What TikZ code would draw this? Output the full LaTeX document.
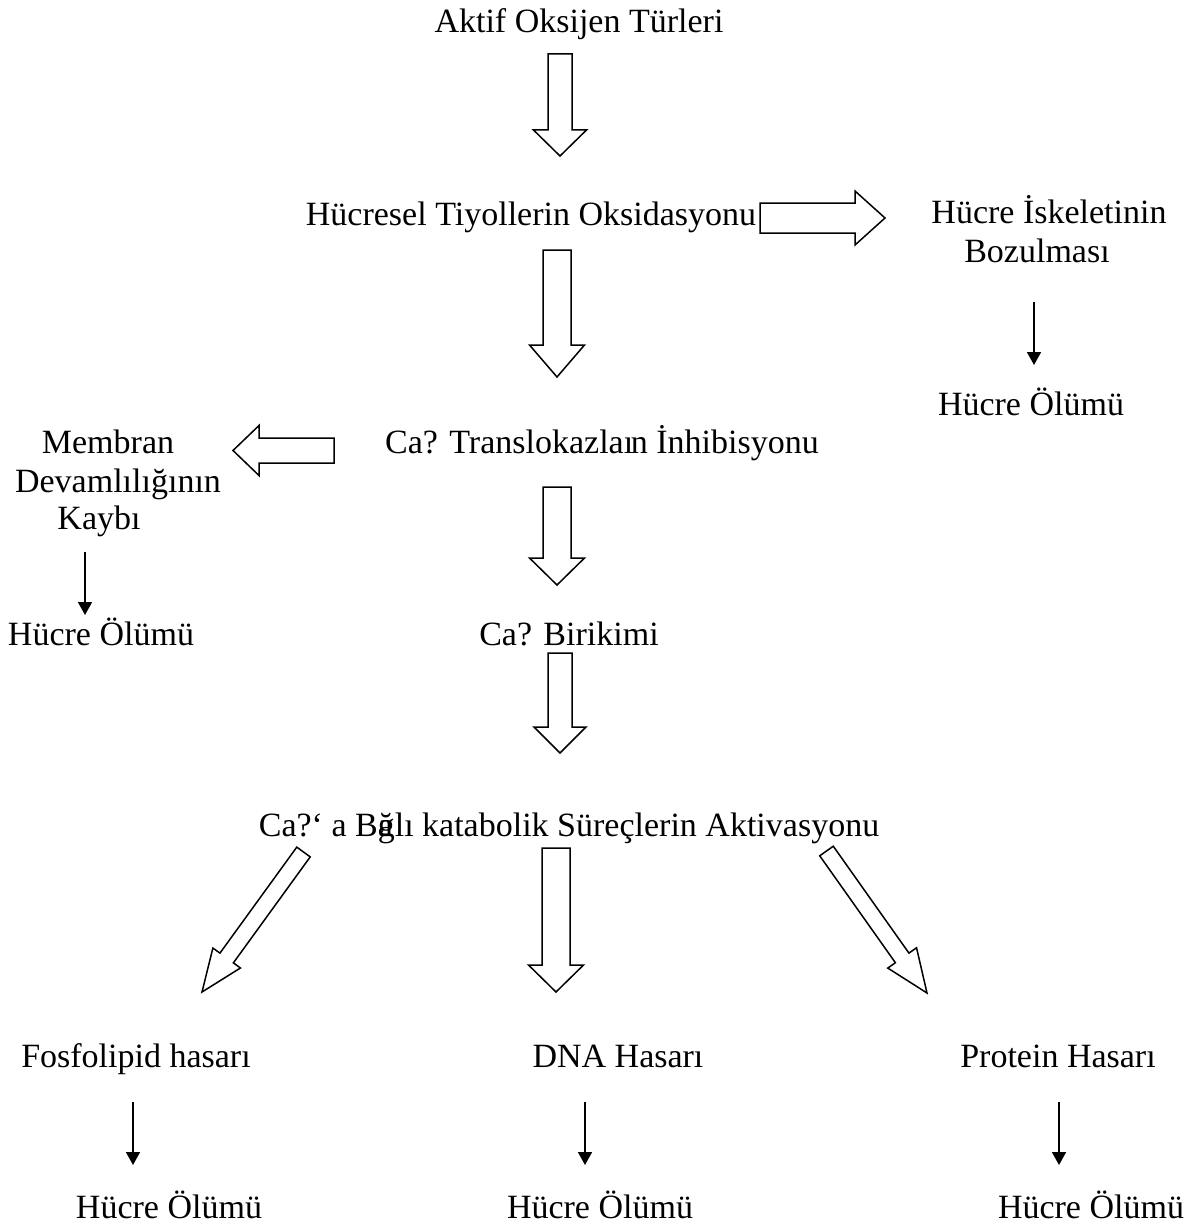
\documentclass[tikz,border=0pt]{standalone}
\usepackage{fontspec}
\setmainfont{Liberation Serif}
\usetikzlibrary{calc,arrows.meta}
\tikzset{
  lbl/.style={inner sep=0pt, anchor=base, font=\fontsize{34}{40}\selectfont},
  hollow/.style={draw=black, fill=white, line width=1.5pt, line join=miter},
  thinarr/.style={line width=1.6pt, -{Triangle[width=14pt,length=13pt]}}
}
% hollow block arrow: #1 start, #2 tip, #3 shaft half width, #4 head half width, #5 head length
\newcommand\hollowarr[5]{%
  \coordinate (hb) at ($(#2)!#5!(#1)$);
  \draw[hollow] ($(#1)!#3!90:(#2)$) -- ($(hb)!#3!90:(#2)$) -- ($(hb)!#4!90:(#2)$) -- (#2)
     -- ($(hb)!#4!-90:(#2)$) -- ($(hb)!#3!-90:(#2)$) -- ($(#1)!#3!-90:(#2)$) -- cycle;
}
\begin{document}
\begin{tikzpicture}[x=1pt,y=-1pt]
\useasboundingbox (0,0) rectangle (1199,1228);
% texts
\node[lbl] (aot) at (579,33) {Aktif Oksijen Türleri};
\node[lbl] (hto) at (531,225) {Hücresel Tiyollerin Oksidasyonu};
\node[lbl] (hib1) at (1049,223) {Hücre İskeletinin};
\node[lbl] (hib2) at (1037,262) {Bozulması};
\node[lbl] (ho1) at (1031,415) {Hücre Ölümü};
\node[lbl] (cti) at (602,453) {Ca? Translokazla\rlap{ı}\kern0.21em n İnhibisyonu};
\node[lbl] (mdk1) at (108,453) {Membran};
\node[lbl] (mdk2) at (118,492) {Devamlılığının};
\node[lbl] (mdk3) at (99,529) {Kaybı};
\node[lbl] (ho2) at (101,645) {Hücre Ölümü};
\node[lbl] (cb) at (569,645) {Ca? Birikimi};
\node[lbl] (cbk) at (569,836) {Ca?‘ a B\rlap{a}ğlı katabolik Süreçlerin Aktivasyonu};
\node[lbl] (fh) at (136,1067) {Fosfolipid hasarı};
\node[lbl] (dh) at (618,1067) {DNA Hasarı};
\node[lbl] (ph) at (1058,1067) {Protein Hasarı};
\node[lbl] (ho3) at (169,1218) {Hücre Ölümü};
\node[lbl] (ho4) at (600,1218) {Hücre Ölümü};
\node[lbl] (ho5) at (1091,1218) {Hücre Ölümü};
% arrow end points
\coordinate (a1s) at (560,54);   \coordinate (a1e) at (560,156);
\coordinate (a2s) at (557,250);  \coordinate (a2e) at (557,377);
\coordinate (a3s) at (557,487);  \coordinate (a3e) at (557,585);
\coordinate (a4s) at (560,653);  \coordinate (a4e) at (560,753);
\coordinate (a5s) at (556,848);  \coordinate (a5e) at (556,992);
\coordinate (ras) at (760,218);  \coordinate (rae) at (885,218);
\coordinate (las) at (334,450.5); \coordinate (lae) at (233,450.5);
\coordinate (lds) at (303.5,852); \coordinate (lde) at (202,992);
\coordinate (rds) at (826.5,851); \coordinate (rde) at (927,993);
% hollow arrows
\hollowarr{a1s}{a1e}{12pt}{26.5pt}{26pt}
\hollowarr{a2s}{a2e}{14pt}{27.5pt}{32pt}
\hollowarr{a3s}{a3e}{14pt}{27.5pt}{27pt}
\hollowarr{a4s}{a4e}{12pt}{26pt}{26pt}
\hollowarr{a5s}{a5e}{14pt}{27.5pt}{27pt}
\hollowarr{ras}{rae}{15pt}{27pt}{30pt}
\hollowarr{las}{lae}{12.5pt}{25pt}{26pt}
\hollowarr{lds}{lde}{8.3pt}{17pt}{42pt}
\hollowarr{rds}{rde}{8.3pt}{17.6pt}{43pt}
% thin arrows
\coordinate (s1s) at (1034,302); \coordinate (s1e) at (1034,365);
\coordinate (s2s) at (85,552);   \coordinate (s2e) at (85,615);
\coordinate (s3s) at (133,1102); \coordinate (s3e) at (133,1165);
\coordinate (s4s) at (585,1102); \coordinate (s4e) at (585,1165);
\coordinate (s5s) at (1059,1102); \coordinate (s5e) at (1059,1165);
\draw[thinarr] (s1s) -- (s1e);
\draw[thinarr] (s2s) -- (s2e);
\draw[thinarr] (s3s) -- (s3e);
\draw[thinarr] (s4s) -- (s4e);
\draw[thinarr] (s5s) -- (s5e);
\end{tikzpicture}
\end{document}
